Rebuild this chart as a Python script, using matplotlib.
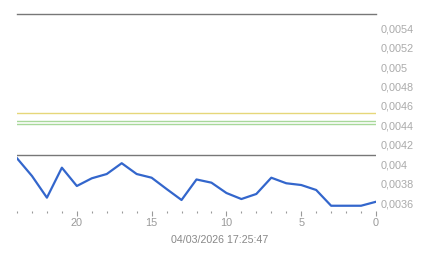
import matplotlib
matplotlib.use("Agg")
import matplotlib.pyplot as plt
from matplotlib.ticker import FixedLocator, MultipleLocator, FuncFormatter

plt.rcParams['font.family'] = ['Liberation Sans', 'DejaVu Sans']

# Data
x_values = list(range(24, -1, -1))
y_values = [0.004063, 0.003881, 0.003658, 0.003966, 0.003778, 0.003857, 0.003901,
            0.004012, 0.003901, 0.003863, 0.003747, 0.003634, 0.003845, 0.003812,
            0.003706, 0.003644, 0.003696, 0.003863, 0.003806, 0.003788, 0.003737,
            0.003575, 0.003575, 0.003575, 0.003616]
ref_gray = 0.0041
ref_yellow = 0.004529
ref_green = [0.004447, 0.004411]
y_ticks = [0.0036, 0.0038, 0.0040, 0.0042, 0.0044, 0.0046, 0.0048, 0.0050, 0.0052, 0.0054]
x_major = [20, 15, 10, 5, 0]
date_label = "04/03/2026 17:25:47"

W, H = 443, 258
fig = plt.figure(figsize=(W / 100, H / 100), dpi=100)
ax = fig.add_axes([17 / W, 1 - 211 / H, (376 - 17) / W, (211 - 14) / H])

ax.plot(x_values, y_values, color='#3366cc', lw=1.6, solid_joinstyle='round', zorder=5)
ax.axhline(ref_gray, color='#777777', lw=1.0, zorder=3)
ax.axhline(ref_yellow, color='#e6d77a', lw=1.0, zorder=3)
for g in ref_green:
    ax.axhline(g, color='#a8d89a', lw=1.0, zorder=3)

ax.set_xlim(24, 0)
ax.set_ylim(0.003521, 0.005545)

for s in ['left', 'right', 'bottom']:
    ax.spines[s].set_visible(False)
ax.spines['top'].set_color('#777777')
ax.spines['top'].set_linewidth(1.0)

ax.xaxis.set_major_locator(FixedLocator(x_major))
ax.xaxis.set_minor_locator(MultipleLocator(1))
ax.tick_params(axis='x', which='major', length=3.6, width=0.8, color='#999999',
               labelsize=7.8, labelcolor='#999999', pad=1.5)
ax.tick_params(axis='x', which='minor', length=1.4, width=0.8, color='#999999')

ax.yaxis.tick_right()
ax.yaxis.set_major_locator(FixedLocator(y_ticks))
ax.yaxis.set_major_formatter(FuncFormatter(
    lambda v, p: f"{v:.4f}".rstrip('0').replace('.', ',')))
ax.tick_params(axis='y', which='both', length=0, labelsize=7.8,
               labelcolor='#aaaaaa', pad=3)

fig.text(219.7 / W, 1 - 240 / H, date_label, ha='center', va='center',
         fontsize=7.7, color='#888888')

fig.savefig('out.png', dpi=100)
